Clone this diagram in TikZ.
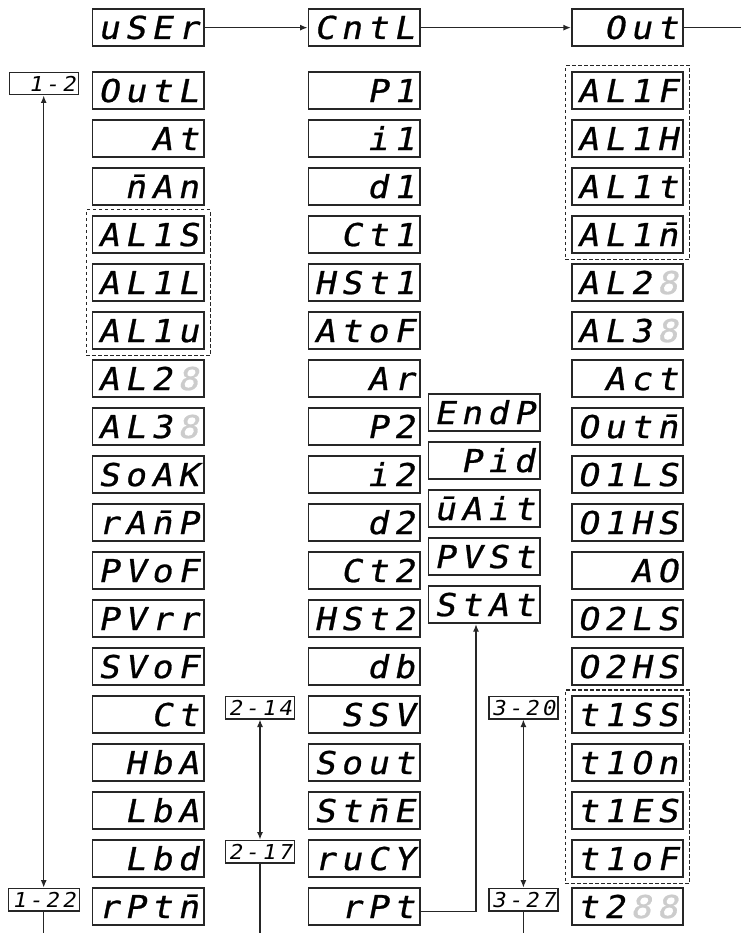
\documentclass[tikz,border=0pt]{standalone}
\usepackage{fontspec}
\usetikzlibrary{arrows.meta,fit}
\newfontfamily\segf{DejaVu Sans Mono}[FakeSlant=0.2,FakeStretch=1.1,FakeBold=0.8]
\newfontfamily\segl{DejaVu Sans Mono}[FakeSlant=0.2,FakeStretch=1.1]
\newlength\dspw
\makeatletter
\def\dsp#1{\makebox[4\dspw][r]{\dsp@loop#1\relax}}
\def\dsp@loop#1{\ifx\relax#1\else\makebox[\dspw][c]{#1}\expandafter\dsp@loop\fi}
\makeatother
\newcommand\dfont{\segf\fontsize{31.5pt}{31.5pt}\selectfont\setlength\dspw{26.5pt}}
\newcommand\lfont{\segl\fontsize{20.5pt}{20.5pt}\selectfont\setlength\dspw{16.6pt}}
\newcommand\ght{\color{black!20}8}
\begin{document}
\begin{tikzpicture}[x=1pt,y=-1pt,
  disp/.style={draw=black!85, line width=1.7pt, minimum width=111.5pt, minimum height=37pt,
    inner xsep=2.75pt, inner ysep=0pt, text height=22.5pt, text depth=0pt, font=\dfont},
  lab/.style={draw=black!85, line width=1.4pt, minimum width=69pt, minimum height=22.5pt,
    inner xsep=1.2pt, inner ysep=0pt, text height=15pt, text depth=0pt, font=\lfont},
  grp/.style={draw=black!85, line width=1.1pt, dash pattern=on 3.5pt off 2.5pt, inner sep=5.5pt},
  conn/.style={line width=1.3pt, draw=black!85},
  arr/.style={conn, -{Latex[length=7.5pt,width=6pt]}},
  darr/.style={conn, {Latex[length=7.5pt,width=6pt]}-{Latex[length=7.5pt,width=6pt]}}
]
\useasboundingbox (0,0) rectangle (741,933);
% column 1
\node[disp] (a0) at (148.2,27.65) {\dsp{uSEr}};
\node[disp] (a1) at (148.2,90.8) {\dsp{OutL}};
\node[disp] (a2) at (148.2,138.8) {\dsp{At}};
\node[disp] (a3) at (148.2,186.8) {\dsp{{\={n}}An}};
\node[disp] (a4) at (148.2,234.8) {\dsp{AL1S}};
\node[disp] (a5) at (148.2,282.8) {\dsp{AL1L}};
\node[disp] (a6) at (148.2,330.8) {\dsp{AL1u}};
\node[disp] (a7) at (148.2,378.8) {\dsp{AL2{\ght}}};
\node[disp] (a8) at (148.2,426.8) {\dsp{AL3{\ght}}};
\node[disp] (a9) at (148.2,474.8) {\dsp{SoAK}};
\node[disp] (a10) at (148.2,522.8) {\dsp{rA{\={n}}P}};
\node[disp] (a11) at (148.2,570.8) {\dsp{PVoF}};
\node[disp] (a12) at (148.2,618.8) {\dsp{PVrr}};
\node[disp] (a13) at (148.2,666.8) {\dsp{SVoF}};
\node[disp] (a14) at (148.2,714.8) {\dsp{Ct}};
\node[disp] (a15) at (148.2,762.8) {\dsp{HbA}};
\node[disp] (a16) at (148.2,810.8) {\dsp{LbA}};
\node[disp] (a17) at (148.2,858.8) {\dsp{Lbd}};
\node[disp] (a18) at (148.2,906.8) {\dsp{rPt{\={n}}}};
% column 2
\node[disp] (b0) at (364.2,27.65) {\dsp{CntL}};
\node[disp] (b1) at (364.2,90.8) {\dsp{P1}};
\node[disp] (b2) at (364.2,138.8) {\dsp{i1}};
\node[disp] (b3) at (364.2,186.8) {\dsp{d1}};
\node[disp] (b4) at (364.2,234.8) {\dsp{Ct1}};
\node[disp] (b5) at (364.2,282.8) {\dsp{HSt1}};
\node[disp] (b6) at (364.2,330.8) {\dsp{AtoF}};
\node[disp] (b7) at (364.2,378.8) {\dsp{Ar}};
\node[disp] (b8) at (364.2,426.8) {\dsp{P2}};
\node[disp] (b9) at (364.2,474.8) {\dsp{i2}};
\node[disp] (b10) at (364.2,522.8) {\dsp{d2}};
\node[disp] (b11) at (364.2,570.8) {\dsp{Ct2}};
\node[disp] (b12) at (364.2,618.8) {\dsp{HSt2}};
\node[disp] (b13) at (364.2,666.8) {\dsp{db}};
\node[disp] (b14) at (364.2,714.8) {\dsp{SSV}};
\node[disp] (b15) at (364.2,762.8) {\dsp{Sout}};
\node[disp] (b16) at (364.2,810.8) {\dsp{St{\={n}}E}};
\node[disp] (b17) at (364.2,858.8) {\dsp{ruCY}};
\node[disp] (b18) at (364.2,906.8) {\dsp{rPt}};
% column 2b
\node[disp] (s1) at (484.3,412.8) {\dsp{EndP}};
\node[disp] (s2) at (484.3,460.8) {\dsp{Pid}};
\node[disp] (s3) at (484.3,508.8) {\dsp{{\={u}}Ait}};
\node[disp] (s4) at (484.3,556.8) {\dsp{PVSt}};
\node[disp] (s5) at (484.3,604.8) {\dsp{StAt}};
% column 3
\node[disp] (c0) at (627.5,27.65) {\dsp{Out}};
\node[disp] (c1) at (627.5,90.8) {\dsp{AL1F}};
\node[disp] (c2) at (627.5,138.8) {\dsp{AL1H}};
\node[disp] (c3) at (627.5,186.8) {\dsp{AL1t}};
\node[disp] (c4) at (627.5,234.8) {\dsp{AL1{\={n}}}};
\node[disp] (c5) at (627.5,282.8) {\dsp{AL2{\ght}}};
\node[disp] (c6) at (627.5,330.8) {\dsp{AL3{\ght}}};
\node[disp] (c7) at (627.5,378.8) {\dsp{Act}};
\node[disp] (c8) at (627.5,426.8) {\dsp{Out{\={n}}}};
\node[disp] (c9) at (627.5,474.8) {\dsp{O1LS}};
\node[disp] (c10) at (627.5,522.8) {\dsp{O1HS}};
\node[disp] (c11) at (627.5,570.8) {\dsp{AO}};
\node[disp] (c12) at (627.5,618.8) {\dsp{O2LS}};
\node[disp] (c13) at (627.5,666.8) {\dsp{O2HS}};
\node[disp] (c14) at (627.5,714.8) {\dsp{t1SS}};
\node[disp] (c15) at (627.5,762.8) {\dsp{t1On}};
\node[disp] (c16) at (627.5,810.8) {\dsp{t1ES}};
\node[disp] (c17) at (627.5,858.8) {\dsp{t1oF}};
\node[disp] (c18) at (627.5,906.8) {\dsp{t2{\ght}{\ght}}};
% dashed groups
\node[grp, fit=(a4)(a6)] (g1) {};
\node[grp, fit=(c1)(c4)] (g2) {};
\node[grp, fit=(c14)(c17)] (g3) {};
% labels
\node[lab] (l1) at (43.7,83.55) {\dsp{1-2}};
\node[lab, minimum width=71pt] (l2) at (43.7,899.55) {\dsp{1-22}};
\node[lab] (l3) at (260,707.55) {\dsp{2-14}};
\node[lab] (l4) at (260,851.55) {\dsp{2-17}};
\node[lab] (l5) at (523.4,707.55) {\dsp{3-20}};
\node[lab] (l6) at (523.4,899.55) {\dsp{3-27}};
% free ends
\coordinate (rend) at (741,27.65);
\coordinate (e1) at (43.7,933);
\coordinate (e2) at (260,933);
\coordinate (e3) at (523.4,933);
\coordinate (kx) at (476,0);
% connectors
\draw[arr] (a0) -- (b0);
\draw[arr] (b0) -- (c0);
\draw[conn] (c0.east) -- (rend);
\draw[darr] (l1) -- (l2);
\draw[conn] (l2) -- (e1);
\draw[darr] (l3) -- (l4);
\draw[conn] (l4) -- (e2);
\draw[darr] (l5) -- (l6);
\draw[conn] (l6) -- (e3);
\draw[arr] ([yshift=-4.4pt]b18.east) -| (kx |- s5.south);
\end{tikzpicture}
\end{document}
